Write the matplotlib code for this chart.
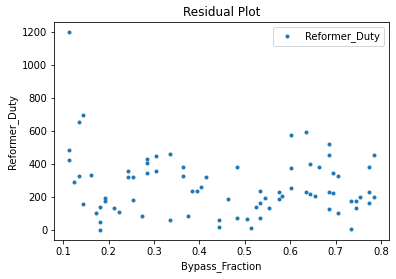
import matplotlib
matplotlib.use("Agg")
import matplotlib.pyplot as plt

bypass_fraction = [
    0.114, 0.114, 0.114, 0.123, 0.134, 0.143, 0.134, 0.143, 0.1625, 0.1735,
    0.182, 0.182, 0.182, 0.193, 0.193, 0.213, 0.224, 0.244, 0.244, 0.253,
    0.253, 0.273, 0.284, 0.284, 0.284, 0.304, 0.304, 0.3346, 0.3346, 0.363,
    0.363, 0.374, 0.383, 0.394, 0.403, 0.414, 0.443, 0.443, 0.464, 0.484,
    0.484, 0.504, 0.513, 0.524, 0.533, 0.533, 0.533, 0.544, 0.553, 0.575,
    0.575, 0.583, 0.603, 0.603, 0.603, 0.634, 0.634, 0.643, 0.643, 0.654,
    0.663, 0.685, 0.685, 0.685, 0.685, 0.694, 0.694, 0.705, 0.705, 0.733,
    0.733, 0.744, 0.744, 0.753, 0.773, 0.773, 0.773, 0.784, 0.784,
]
reformer_duty = [
    1200, 485, 424, 291, 654, 697, 327, 160, 333, 103,
    139, 48, 0, 194, 176, 133, 109, 358, 321, 321,
    182, 85, 428, 406, 345, 448, 358, 460, 61, 382,
    327, 85, 236, 236, 261, 321, 61, 18, 188, 382,
    73, 67, 12, 139, 236, 164, 73, 194, 133, 230,
    188, 206, 576, 376, 255, 594, 230, 400, 218, 206,
    382, 521, 455, 230, 127, 345, 224, 327, 103, 176,
    6, 176, 133, 200, 382, 230, 164, 455, 200,
]

fig = plt.figure(figsize=(5.5, 3.875), dpi=72)
ax = fig.add_axes([0.137, 0.14, 0.845, 0.78])
ax.plot(bypass_fraction, reformer_duty, '.', color='#1f77b4', label='Reformer_Duty')
ax.set_title('Residual Plot')
ax.set_xlabel('Bypass_Fraction')
ax.set_ylabel('Reformer_Duty')
ax.legend(loc='upper right')
fig.savefig('out.png', dpi=72)
